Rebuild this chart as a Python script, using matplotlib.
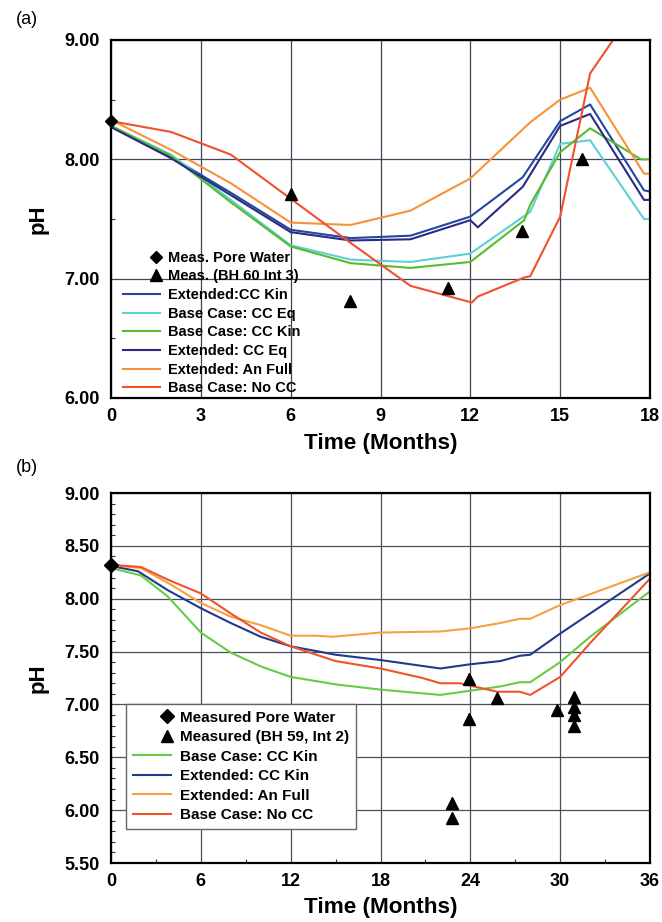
import numpy as np
import matplotlib
matplotlib.use("Agg")
import matplotlib.pyplot as plt
from matplotlib.lines import Line2D
from matplotlib.legend_handler import HandlerLine2DCompound
from matplotlib.ticker import MultipleLocator, FormatStrFormatter

plt.rcParams['font.family'] = ['Liberation Sans', 'DejaVu Sans']
plt.rcParams['font.weight'] = 'bold'

# ---------------- Panel (a) data ----------------
a_ext_kin_t = [0, 2, 4, 6, 8, 10, 12, 13.75, 15, 16, 17.8, 18]
a_ext_kin_ph = [8.28, 8.02, 7.72, 7.41, 7.34, 7.36, 7.52, 7.85, 8.32, 8.46, 7.74, 7.73]
a_ext_eq_t = [0, 2, 4, 6, 8, 10, 12, 12.25, 13.75, 15, 16, 17.8, 18]
a_ext_eq_ph = [8.27, 8.01, 7.70, 7.39, 7.32, 7.33, 7.49, 7.43, 7.77, 8.28, 8.38, 7.66, 7.66]
a_base_eq_t = [0, 2, 4, 6, 8, 10, 12, 14, 15, 16, 17.8, 18]
a_base_eq_ph = [8.28, 8.04, 7.66, 7.28, 7.16, 7.14, 7.21, 7.56, 8.13, 8.16, 7.50, 7.50]
a_base_kin_t = [0, 2, 4, 6, 8, 10, 12, 13.8, 14, 15, 16, 17.7, 18]
a_base_kin_ph = [8.28, 8.03, 7.64, 7.27, 7.13, 7.09, 7.14, 7.49, 7.62, 8.06, 8.26, 8.00, 8.00]
a_ext_an_t = [0, 2, 4, 6, 8, 10, 12, 14, 15, 16, 17.8, 18]
a_ext_an_ph = [8.33, 8.08, 7.80, 7.47, 7.45, 7.57, 7.84, 8.31, 8.50, 8.60, 7.88, 7.88]
a_base_nocc_t = [0, 2, 4, 6, 8, 10, 12.05, 12.25, 13.8, 14, 15, 16, 18]
a_base_nocc_ph = [8.32, 8.23, 8.04, 7.67, 7.30, 6.94, 6.80, 6.85, 7.01, 7.02, 7.52, 8.72, 9.45]
a_pore_t = [0]
a_pore_ph = [8.32]
a_meas_t = [6, 7.97, 11.25, 13.72, 15.72]
a_meas_ph = [7.71, 6.81, 6.92, 7.40, 8.00]

# ---------------- Panel (b) data ----------------
b_base_kin_t = [0, 2, 3.8, 6, 8, 10, 12, 15, 18, 22, 24, 26, 27.3, 28, 30, 32, 36]
b_base_kin_ph = [8.29, 8.22, 8.02, 7.68, 7.49, 7.36, 7.26, 7.19, 7.14, 7.09, 7.13, 7.17, 7.21, 7.21, 7.40, 7.64, 8.07]
b_ext_kin_t = [0, 1.8, 3.8, 6, 8, 10, 12, 15, 18, 22, 24, 26, 27.3, 28, 30, 36]
b_ext_kin_ph = [8.31, 8.26, 8.08, 7.91, 7.77, 7.64, 7.55, 7.47, 7.42, 7.34, 7.38, 7.41, 7.46, 7.47, 7.67, 8.24]
b_ext_an_t = [0, 2, 3.8, 6, 8, 10, 12, 13.7, 14.8, 18, 22, 24, 26, 27.3, 28, 30, 36]
b_ext_an_ph = [8.32, 8.29, 8.15, 7.96, 7.83, 7.75, 7.65, 7.65, 7.64, 7.68, 7.69, 7.72, 7.77, 7.81, 7.81, 7.94, 8.25]
b_base_nocc_t = [0, 2, 3.8, 6, 8, 10, 12, 15, 18, 20.8, 22, 23.3, 25.8, 27.3, 28, 30, 32, 36]
b_base_nocc_ph = [8.32, 8.30, 8.18, 8.05, 7.86, 7.68, 7.55, 7.41, 7.34, 7.25, 7.20, 7.20, 7.12, 7.12, 7.09, 7.26, 7.58, 8.19]
b_pore_t = [0]
b_pore_ph = [8.32]
b_meas_t = [22.8, 22.8, 23.9, 23.9, 25.8, 29.8, 30.9, 30.9, 30.9, 30.9]
b_meas_ph = [6.07, 5.93, 7.24, 6.86, 7.06, 6.95, 7.07, 6.98, 6.90, 6.80]


class RightMarker(HandlerLine2DCompound):
    """Marker-only legend entry with the marker at the right end of the handle."""
    def get_xdata(self, legend, xdescent, ydescent, width, height, fontsize):
        xdata = [-xdescent, -xdescent + width]
        return xdata, [-xdescent + width - 0.25 * fontsize]


W, H = 662, 922
fig = plt.figure(figsize=(W / 100, H / 100), dpi=100)


def px_axes(left, top, right, bottom):
    return fig.add_axes([left / W, 1 - bottom / H, (right - left) / W, (bottom - top) / H])


def style_axes(ax):
    for s in ax.spines.values():
        s.set_linewidth(1.6)
        s.set_color('black')
    ax.tick_params(axis='both', which='both', direction='in', top=False, right=False)
    ax.tick_params(axis='both', which='major', length=0, labelsize=13)
    ax.tick_params(axis='y', which='major', pad=8)
    ax.tick_params(axis='x', which='major', pad=7)
    ax.tick_params(axis='both', which='minor', length=3, width=0.8, color='#333333')
    for lab in ax.get_xticklabels() + ax.get_yticklabels():
        lab.set_fontweight('bold')


# ================= Panel (a) =================
ax = px_axes(111, 40, 650, 398)
ax.set_xlim(0, 18)
ax.set_ylim(6, 9)
ax.xaxis.set_major_locator(MultipleLocator(3))
ax.yaxis.set_major_locator(MultipleLocator(1))
ax.yaxis.set_minor_locator(MultipleLocator(0.5))
ax.yaxis.set_major_formatter(FormatStrFormatter('%.2f'))
ax.grid(True, which='major', color='#40465a', linewidth=0.9)
ax.set_axisbelow(True)

lw = 1.5
ax.plot(a_ext_kin_t, a_ext_kin_ph, color='#2446a0', lw=lw, label='Extended:CC Kin')
ax.plot(a_base_eq_t, a_base_eq_ph, color='#5fcfd6', lw=lw, label='Base Case: CC Eq')
ax.plot(a_base_kin_t, a_base_kin_ph, color='#58bb2e', lw=lw, label='Base Case: CC Kin')
ax.plot(a_ext_eq_t, a_ext_eq_ph, color='#2c2a82', lw=lw, label='Extended: CC Eq')
ax.plot(a_ext_an_t, a_ext_an_ph, color='#f7923a', lw=lw, label='Extended: An Full')
ax.plot(a_base_nocc_t, a_base_nocc_ph, color='#f0502c', lw=lw, label='Base Case: No CC')
pore_a, = ax.plot(a_pore_t, a_pore_ph, 'D', color='black', ms=6.5, ls='None', clip_on=False,
                  label='Meas. Pore Water')
meas_a, = ax.plot(a_meas_t, a_meas_ph, '^', color='black', ms=8, ls='None',
                  label='Meas. (BH 60 Int 3)')

style_axes(ax)
ax.set_xlabel('Time (Months)', fontsize=16.2, fontweight='bold', labelpad=6)
ax.set_ylabel('pH', fontsize=16, fontweight='bold')
ax.yaxis.set_label_coords((49 - 111) / 539, 0.5)

handles, labels = ax.get_legend_handles_labels()
order = [6, 7, 0, 1, 2, 3, 4, 5]
leg = ax.legend([handles[i] for i in order], [labels[i] for i in order],
                loc='lower left', bbox_to_anchor=(0.014, -0.005), frameon=False,
                prop={'weight': 'bold', 'size': 10.5}, handlelength=2.55, handletextpad=0.55,
                labelspacing=0.32, borderpad=0.3, borderaxespad=0.0,
                handler_map={pore_a: RightMarker(numpoints=1), meas_a: RightMarker(numpoints=1)})

fig.text(27 / W, 1 - 19 / H, '(a)', fontsize=13, fontweight='normal', ha='center', va='center')

# ================= Panel (b) =================
bx = px_axes(111, 493, 650, 863)
bx.set_xlim(0, 36)
bx.set_ylim(5.5, 9)
bx.xaxis.set_major_locator(MultipleLocator(6))
bx.xaxis.set_minor_locator(MultipleLocator(3))
bx.yaxis.set_major_locator(MultipleLocator(0.5))
bx.yaxis.set_minor_locator(MultipleLocator(0.1))
bx.yaxis.set_major_formatter(FormatStrFormatter('%.2f'))
bx.grid(True, which='major', color='#4a4e5c', linewidth=0.9)
bx.set_axisbelow(True)

bx.plot(b_base_kin_t, b_base_kin_ph, color='#66cc44', lw=lw, label='Base Case: CC Kin')
bx.plot(b_ext_kin_t, b_ext_kin_ph, color='#22388c', lw=lw, label='Extended: CC Kin')
bx.plot(b_ext_an_t, b_ext_an_ph, color='#f7a042', lw=lw, label='Extended: An Full')
bx.plot(b_base_nocc_t, b_base_nocc_ph, color='#f0552a', lw=lw, label='Base Case: No CC')
pore_b, = bx.plot(b_pore_t, b_pore_ph, 'D', color='black', ms=7.5, ls='None', clip_on=False,
                  label='Measured Pore Water')
meas_b, = bx.plot(b_meas_t, b_meas_ph, '^', color='black', ms=8, ls='None',
                  label='Measured (BH 59, Int 2)')

style_axes(bx)
bx.set_xlabel('Time (Months)', fontsize=16.2, fontweight='bold', labelpad=5)
bx.set_ylabel('pH', fontsize=16, fontweight='bold')
bx.yaxis.set_label_coords((49 - 111) / 539, 0.5)

handles, labels = bx.get_legend_handles_labels()
order = [4, 5, 0, 1, 2, 3]
legb = bx.legend([handles[i] for i in order], [labels[i] for i in order],
                 loc='lower left', bbox_to_anchor=(0.028, 0.092), frameon=True, fancybox=False,
                 edgecolor='#666666', framealpha=1.0,
                 prop={'weight': 'bold', 'size': 11}, handlelength=2.5, handletextpad=0.6,
                 labelspacing=0.36, borderpad=0.45, borderaxespad=0.0,
                 handler_map={pore_b: RightMarker(numpoints=1), meas_b: RightMarker(numpoints=1)})
legb.get_frame().set_linewidth(1.0)

fig.text(27 / W, 1 - 467 / H, '(b)', fontsize=13, fontweight='normal', ha='center', va='center')

fig.savefig('out.png', dpi=100)
